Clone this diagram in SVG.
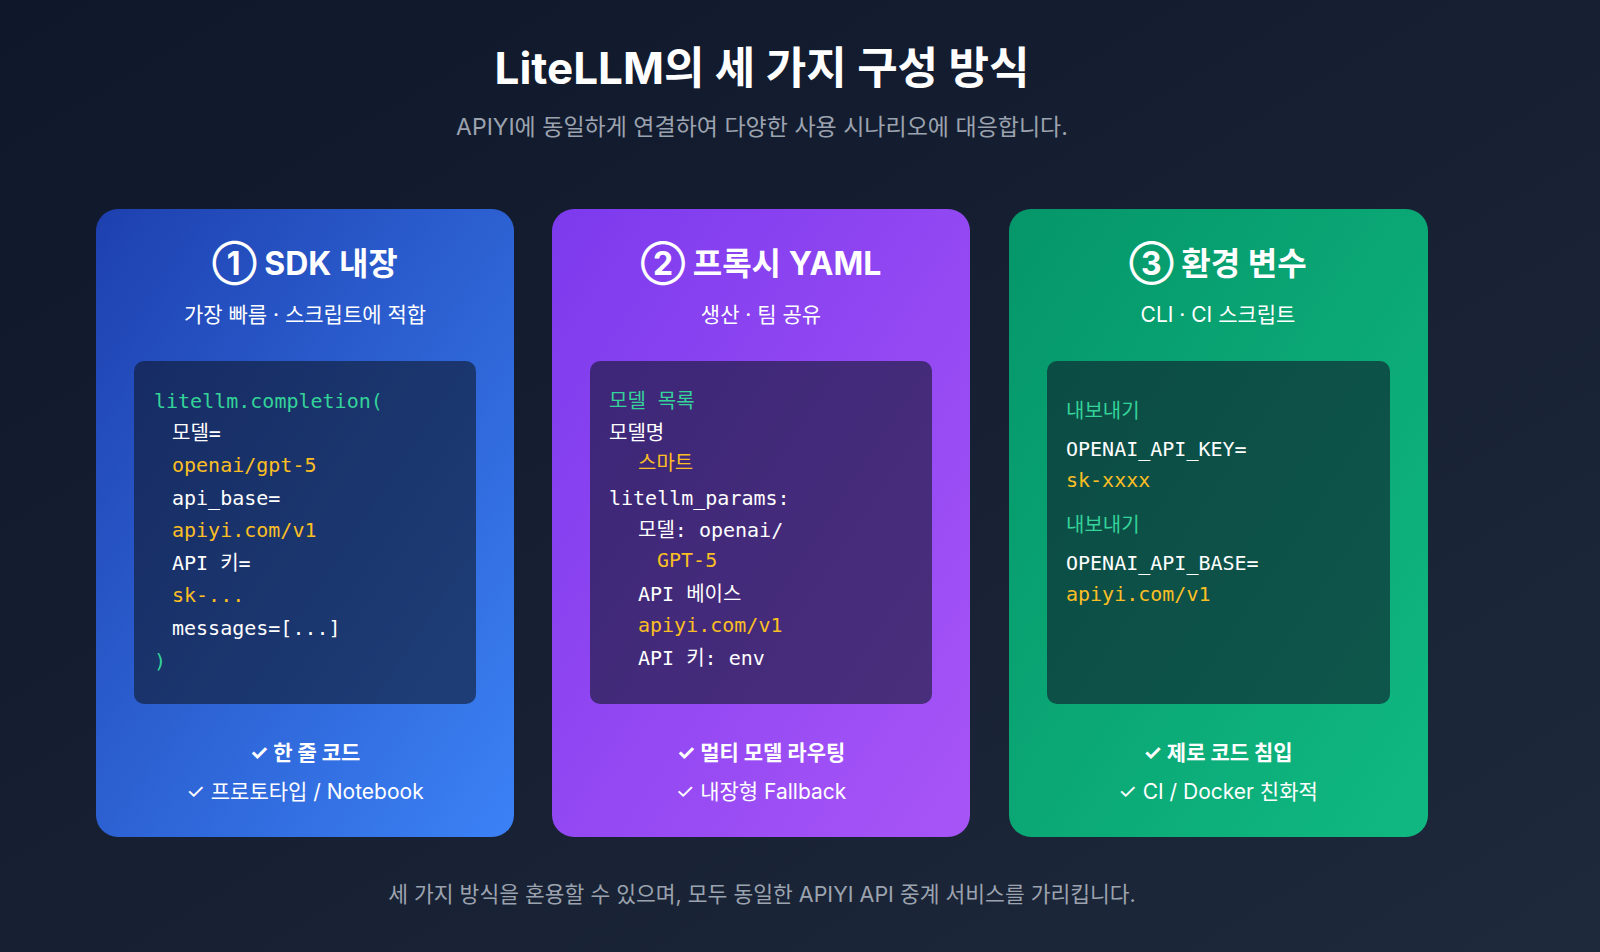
<svg xmlns="http://www.w3.org/2000/svg" width="1600" height="952" viewBox="0 0 1600 952">
<defs>
<linearGradient id="bg" x1="0" y1="0" x2="1" y2="1"><stop offset="0" stop-color="#0f172a"/><stop offset="1" stop-color="#1e293b"/></linearGradient>
<linearGradient id="g1" x1="0" y1="0" x2="1" y2="1"><stop offset="0" stop-color="#1e40af"/><stop offset="1" stop-color="#3b82f6"/></linearGradient>
<linearGradient id="g2" x1="0" y1="0" x2="1" y2="1"><stop offset="0" stop-color="#7c3aed"/><stop offset="1" stop-color="#a855f7"/></linearGradient>
<linearGradient id="g3" x1="0" y1="0" x2="1" y2="1"><stop offset="0" stop-color="#059669"/><stop offset="1" stop-color="#10b981"/></linearGradient>
</defs>
<style>
.s{font-family:"Inter","Liberation Sans","Noto Sans CJK KR",sans-serif}
.m{font-family:"DejaVu Sans Mono","Liberation Mono","Noto Sans CJK KR",monospace;font-size:20px}
.t{fill:#fff;font-weight:700;font-size:32px;text-anchor:middle}
.st{fill:#fff;font-size:21px;text-anchor:middle}
.ck{fill:#fff;font-size:21px;text-anchor:middle}
.box{fill:#0f172a;fill-opacity:0.6}
.gr{fill:#34d399}.w{fill:#fff}.y{fill:#fbbf24}
</style>
<rect width="1600" height="952" fill="url(#bg)"/>
<text class="s" x="762" y="84" fill="#fff" font-size="44" font-weight="700" text-anchor="middle">LiteLLM의 세 가지 구성 방식</text>
<text class="s" x="762" y="135" fill="#9ca3af" font-size="23" text-anchor="middle">APIYI에 동일하게 연결하여 다양한 사용 시나리오에 대응합니다.</text>
<g id="card1">
<rect x="96" y="209" width="418" height="628" rx="22" fill="url(#g1)"/>
<text class="s t" x="305" y="275">① SDK 내장</text>
<text class="s st" x="305" y="322">가장 빠름 · 스크립트에 적합</text>
<rect class="box" x="134" y="361" width="342" height="343" rx="10"/>
<text class="m gr" x="154" y="408">litellm.completion(</text>
<text class="m w" x="172" y="440">모델=</text>
<text class="m y" x="172" y="472">openai/gpt-5</text>
<text class="m w" x="172" y="505">api_base=</text>
<text class="m y" x="172" y="537">apiyi.com/v1</text>
<text class="m w" x="172" y="570">API 키=</text>
<text class="m y" x="172" y="602">sk-...</text>
<text class="m w" x="172" y="635">messages=[...]</text>
<text class="m gr" x="154" y="668">)</text>
<text class="s ck" x="305" y="760" font-weight="700">✓ 한 줄 코드</text>
<text class="s ck" x="305" y="799">✓ 프로토타입 / Notebook</text>
</g>
<g id="card2">
<rect x="552" y="209" width="418" height="628" rx="22" fill="url(#g2)"/>
<text class="s t" x="761" y="275">② 프록시 YAML</text>
<text class="s st" x="761" y="322">생산 · 팀 공유</text>
<rect class="box" x="590" y="361" width="342" height="343" rx="10"/>
<text class="m gr" x="609" y="408">모델 목록</text>
<text class="m w" x="609" y="440">모델명</text>
<text class="m y" x="638" y="470">스마트</text>
<text class="m w" x="609" y="505">litellm_params:</text>
<text class="m w" x="638" y="537">모델: openai/</text>
<text class="m y" x="657" y="567">GPT-5</text>
<text class="m w" x="638" y="601">API 베이스</text>
<text class="m y" x="638" y="632">apiyi.com/v1</text>
<text class="m w" x="638" y="665">API 키: env</text>
<text class="s ck" x="761" y="760" font-weight="700">✓ 멀티 모델 라우팅</text>
<text class="s ck" x="761" y="799">✓ 내장형 Fallback</text>
</g>
<g id="card3">
<rect x="1009" y="209" width="419" height="628" rx="22" fill="url(#g3)"/>
<text class="s t" x="1218" y="275">③ 환경 변수</text>
<text class="s st" x="1218" y="322">CLI · CI 스크립트</text>
<rect class="box" x="1047" y="361" width="343" height="343" rx="10"/>
<text class="m gr" x="1066" y="418">내보내기</text>
<text class="m w" x="1066" y="456">OPENAI_API_KEY=</text>
<text class="m y" x="1066" y="487">sk-xxxx</text>
<text class="m gr" x="1066" y="532">내보내기</text>
<text class="m w" x="1066" y="570">OPENAI_API_BASE=</text>
<text class="m y" x="1066" y="601">apiyi.com/v1</text>
<text class="s ck" x="1218" y="760" font-weight="700">✓ 제로 코드 침입</text>
<text class="s ck" x="1218" y="799">✓ CI / Docker 친화적</text>
</g>
<text class="s" x="762" y="902" fill="#9ca3af" font-size="21.5" text-anchor="middle">세 가지 방식을 혼용할 수 있으며, 모두 동일한 APIYI API 중계 서비스를 가리킵니다.</text>
</svg>
